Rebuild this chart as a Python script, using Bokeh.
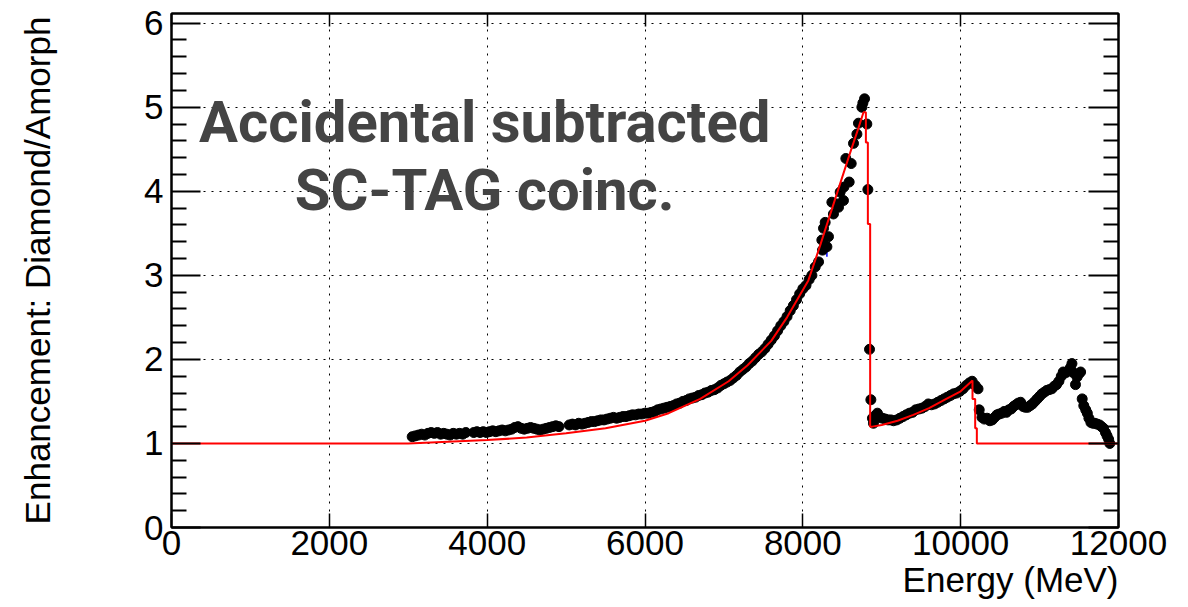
from bokeh.plotting import figure
from bokeh.models import LinearAxis, FixedTicker, Range1d, Label, Title, CustomJSTickFormatter
from bokeh.embed import file_html
from bokeh.resources import INLINE

# Measured enhancement (diamond / amorphous) vs photon energy, rising edge up to the coherent peak
rise_energy = [
    3050, 3090, 3130, 3170, 3210, 3250, 3290, 3330, 3370, 3410, 3450, 3490, 3530, 3570, 3610, 3650, 3690, 3730,
    3830, 3870, 3910, 3950, 3990, 4030, 4070, 4110, 4150, 4190, 4230, 4270, 4310, 4350, 4390, 4430, 4470, 4510,
    4550, 4590, 4630, 4670, 4710, 4750, 4790, 4830, 4870, 4910,
    5040, 5080, 5120, 5160, 5200, 5240, 5280, 5320, 5360, 5400, 5440, 5480, 5520, 5560, 5600, 5640, 5680, 5720,
    5760, 5800, 5840, 5880, 5920, 5960, 6000, 6040, 6080, 6120, 6160, 6200, 6240, 6280, 6320, 6360, 6400, 6440,
    6480, 6520, 6560, 6600, 6640, 6680, 6720, 6760, 6800, 6840, 6880, 6920, 6960, 7000, 7040, 7080, 7120, 7160,
    7200, 7240, 7280, 7320, 7360, 7400, 7440, 7480, 7520, 7560, 7600, 7640, 7680, 7720, 7760, 7800, 7840, 7880,
    7920, 7960, 8000, 8040, 8080, 8115, 8157, 8199, 8241, 8249, 8262, 8283, 8305, 8325, 8368, 8388, 8430, 8452,
    8473, 8515, 8520, 8545, 8587, 8613, 8642, 8685, 8705, 8748, 8761, 8782, 8811, 8824, 8845, 8862, 8882, 8895,
]
rise_enh = [
    1.08, 1.09, 1.10, 1.11, 1.10, 1.12, 1.13, 1.12, 1.13, 1.11, 1.12, 1.11, 1.10, 1.12, 1.11, 1.12, 1.11, 1.13,
    1.13, 1.14, 1.13, 1.14, 1.13, 1.14, 1.15, 1.14, 1.15, 1.16, 1.15, 1.16, 1.17, 1.19, 1.20, 1.18, 1.17, 1.18,
    1.19, 1.18, 1.17, 1.16, 1.17, 1.18, 1.19, 1.20, 1.21, 1.20,
    1.22, 1.23, 1.22, 1.24, 1.23, 1.24, 1.25, 1.26, 1.26, 1.27, 1.28, 1.28, 1.29, 1.30, 1.31, 1.30, 1.31, 1.32,
    1.32, 1.33, 1.34, 1.34, 1.35, 1.35, 1.36, 1.36, 1.37, 1.38, 1.40, 1.41, 1.42, 1.43, 1.44, 1.45, 1.47, 1.48,
    1.50, 1.51, 1.53, 1.54, 1.55, 1.57, 1.58, 1.60, 1.61, 1.63, 1.64, 1.66, 1.69, 1.71, 1.73, 1.75, 1.78, 1.81,
    1.85, 1.88, 1.91, 1.95, 1.98, 2.02, 2.06, 2.09, 2.13, 2.18, 2.23, 2.28, 2.34, 2.40, 2.45, 2.51, 2.58, 2.64,
    2.71, 2.78, 2.84, 2.88, 2.95, 3.00, 3.10, 3.16, 3.42, 3.30, 3.56, 3.63, 3.34, 3.46, 3.87, 3.73, 3.85, 3.81,
    3.99, 3.89, 4.05, 4.39, 4.11, 4.33, 4.57, 4.68, 4.81, 5.00, 5.05, 5.10, 4.80, 4.02, 2.12, 1.52, 1.30, 1.24,
]

# Secondary peaks above the main coherent edge
tail_energy = [
    8915, 8945, 8975, 9010, 9045, 9080, 9115, 9150, 9190, 9230, 9270, 9310, 9350, 9390, 9430, 9470, 9510, 9550,
    9590, 9630, 9670, 9710, 9750, 9790, 9830, 9870, 9910, 9950, 9990, 10030, 10070, 10110, 10145, 10185, 10220,
    10235, 10270, 10300, 10335, 10370, 10400, 10430, 10460, 10490, 10520, 10550, 10580, 10610, 10640, 10670,
    10700, 10730, 10760, 10790, 10820, 10850, 10880, 10910, 10940, 10970, 11000, 11030, 11060, 11090, 11120,
    11155, 11185, 11215, 11245, 11275, 11300, 11330, 11360, 11390, 11410, 11430, 11455, 11475, 11500, 11520,
    11540, 11560, 11585, 11605, 11625, 11650, 11675, 11700, 11730, 11760, 11785, 11810, 11835, 11855, 11875, 11890,
]
tail_enh = [
    1.33, 1.36, 1.31, 1.30, 1.29, 1.28, 1.28, 1.27, 1.28, 1.30, 1.32, 1.34, 1.36, 1.37, 1.40, 1.41, 1.42, 1.44,
    1.47, 1.46, 1.47, 1.49, 1.51, 1.53, 1.55, 1.57, 1.59, 1.60, 1.62, 1.65, 1.69, 1.72, 1.74, 1.69, 1.65,
    1.40, 1.31, 1.29, 1.30, 1.27, 1.28, 1.31, 1.34, 1.35, 1.36, 1.38, 1.37, 1.40, 1.41, 1.44,
    1.46, 1.48, 1.49, 1.44, 1.43, 1.43, 1.45, 1.47, 1.50, 1.53, 1.56, 1.59, 1.61, 1.63, 1.64,
    1.65, 1.68, 1.70, 1.74, 1.80, 1.85, 1.84, 1.86, 1.90, 1.95, 1.84, 1.70, 1.79, 1.83, 1.85,
    1.53, 1.45, 1.40, 1.36, 1.30, 1.25, 1.24, 1.24, 1.23, 1.22, 1.20, 1.18, 1.13, 1.09, 1.05, 1.00,
]

# Fitted enhancement (histogrammed, hence the steps at the edges)
fit_energy = [0, 3000, 3500, 4000, 4500, 5000, 5500, 6000, 6300, 6700,
              7060, 7300, 7600, 7800, 8070, 8200, 8400, 8600, 8700, 8769,
              8799, 8799, 8824, 8824, 8853, 8853, 8878, 9000, 9200, 9400,
              9600, 9800, 10000, 10150, 10150, 10184, 10184, 10205, 10205, 12000]
fit_enh = [1.00, 1.00, 1.02, 1.04, 1.07, 1.12, 1.18, 1.27, 1.36, 1.53,
           1.74, 1.93, 2.22, 2.50, 2.94, 3.30, 3.88, 4.46, 4.74, 4.94,
           4.94, 4.58, 4.58, 3.61, 3.61, 1.20, 1.20, 1.22, 1.27, 1.34,
           1.42, 1.52, 1.62, 1.75, 1.53, 1.53, 1.18, 1.18, 1.00, 1.00]

# One stray error bar left over from another series
err_energy = [8305]
err_low = [3.22]
err_high = [3.40]

x_ticks = [0, 2000, 4000, 6000, 8000, 10000, 12000]
y_ticks = [0, 1, 2, 3, 4, 5, 6]
y_minor = [round(0.2 * i, 1) for i in range(31) if i % 5 != 0]

FONT = "Liberation Sans"

p = figure(width=1188, height=607, output_backend="svg", toolbar_location=None,
           x_range=Range1d(0, 12000), y_range=Range1d(0, 6.115),
           min_border_left=171, min_border_right=70, min_border_top=13, min_border_bottom=80)
p.background_fill_color = "white"
p.border_fill_color = "white"
p.outline_line_color = "black"
p.outline_line_width = 2

xtick = FixedTicker(ticks=x_ticks, minor_ticks=[])
ytick = FixedTicker(ticks=y_ticks, minor_ticks=y_minor)


def style_axis(ax, major_in, minor_in, show_labels):
    ax.axis_line_color = "black"
    ax.axis_line_width = 2
    ax.major_tick_in = major_in
    ax.major_tick_out = 0
    ax.minor_tick_in = minor_in
    ax.minor_tick_out = 0
    ax.major_tick_line_color = "black"
    ax.minor_tick_line_color = "black"
    ax.major_tick_line_width = 2
    ax.minor_tick_line_width = 2
    if show_labels:
        ax.major_label_text_font = FONT
        ax.major_label_text_font_size = "35px"
        ax.major_label_text_color = "black"
        ax.major_label_standoff = 3
    else:
        ax.formatter = CustomJSTickFormatter(code="return ''")
        ax.major_label_text_font_size = "1px"
        ax.major_label_standoff = 0


xa = p.xaxis[0]
xa.ticker = xtick
style_axis(xa, 14, 0, True)
xa.major_tick_line_width = 1.5

ya = p.yaxis[0]
ya.ticker = ytick
style_axis(ya, 29, 15, True)
ya.major_label_standoff = 8
ya.axis_label = "Enhancement: Diamond/Amorph"
ya.axis_label_text_font = FONT
ya.axis_label_text_font_size = "35px"
ya.axis_label_text_font_style = "normal"
ya.axis_label_text_color = "black"
ya.axis_label_standoff = 84

top = LinearAxis(ticker=xtick)
style_axis(top, 13, 0, False)
top.major_tick_line_width = 1.5
p.add_layout(top, "above")

right = LinearAxis(ticker=ytick)
style_axis(right, 30, 15, False)
p.add_layout(right, "right")

for g, t in ((p.xgrid[0], xtick), (p.ygrid[0], FixedTicker(ticks=y_ticks))):
    g.ticker = t
    g.grid_line_color = "black"
    g.grid_line_width = 1
    g.grid_line_dash = "2 6"

# x-axis title sits flush with the right end of the axis
p.add_layout(Title(text="Energy (MeV)", align="right", text_font=FONT, text_font_size="35px",
                   text_font_style="normal", text_color="black", standoff=0, offset=0), "below")

# data points, fit and the stray error bar
p.segment(x0=err_energy, y0=err_low, x1=err_energy, y1=err_high, line_color="blue", line_width=1.5)
p.scatter(rise_energy, rise_enh, size=10, fill_color="black", line_color="black")
p.scatter(tail_energy, tail_enh, size=10, fill_color="black", line_color="black")
p.line(fit_energy, fit_enh, line_color="red", line_width=2)

# annotation
for txt, yv in (("Accidental subtracted", 4.82), ("SC-TAG coinc.", 4.02)):
    p.add_layout(Label(x=3969, y=yv, text=txt, text_align="center", text_baseline="alphabetic",
                       text_font="Roboto", text_font_style="bold",
                       text_font_size="58px", text_color="#444444"))

open("out.html", "w").write(file_html(p, INLINE))
